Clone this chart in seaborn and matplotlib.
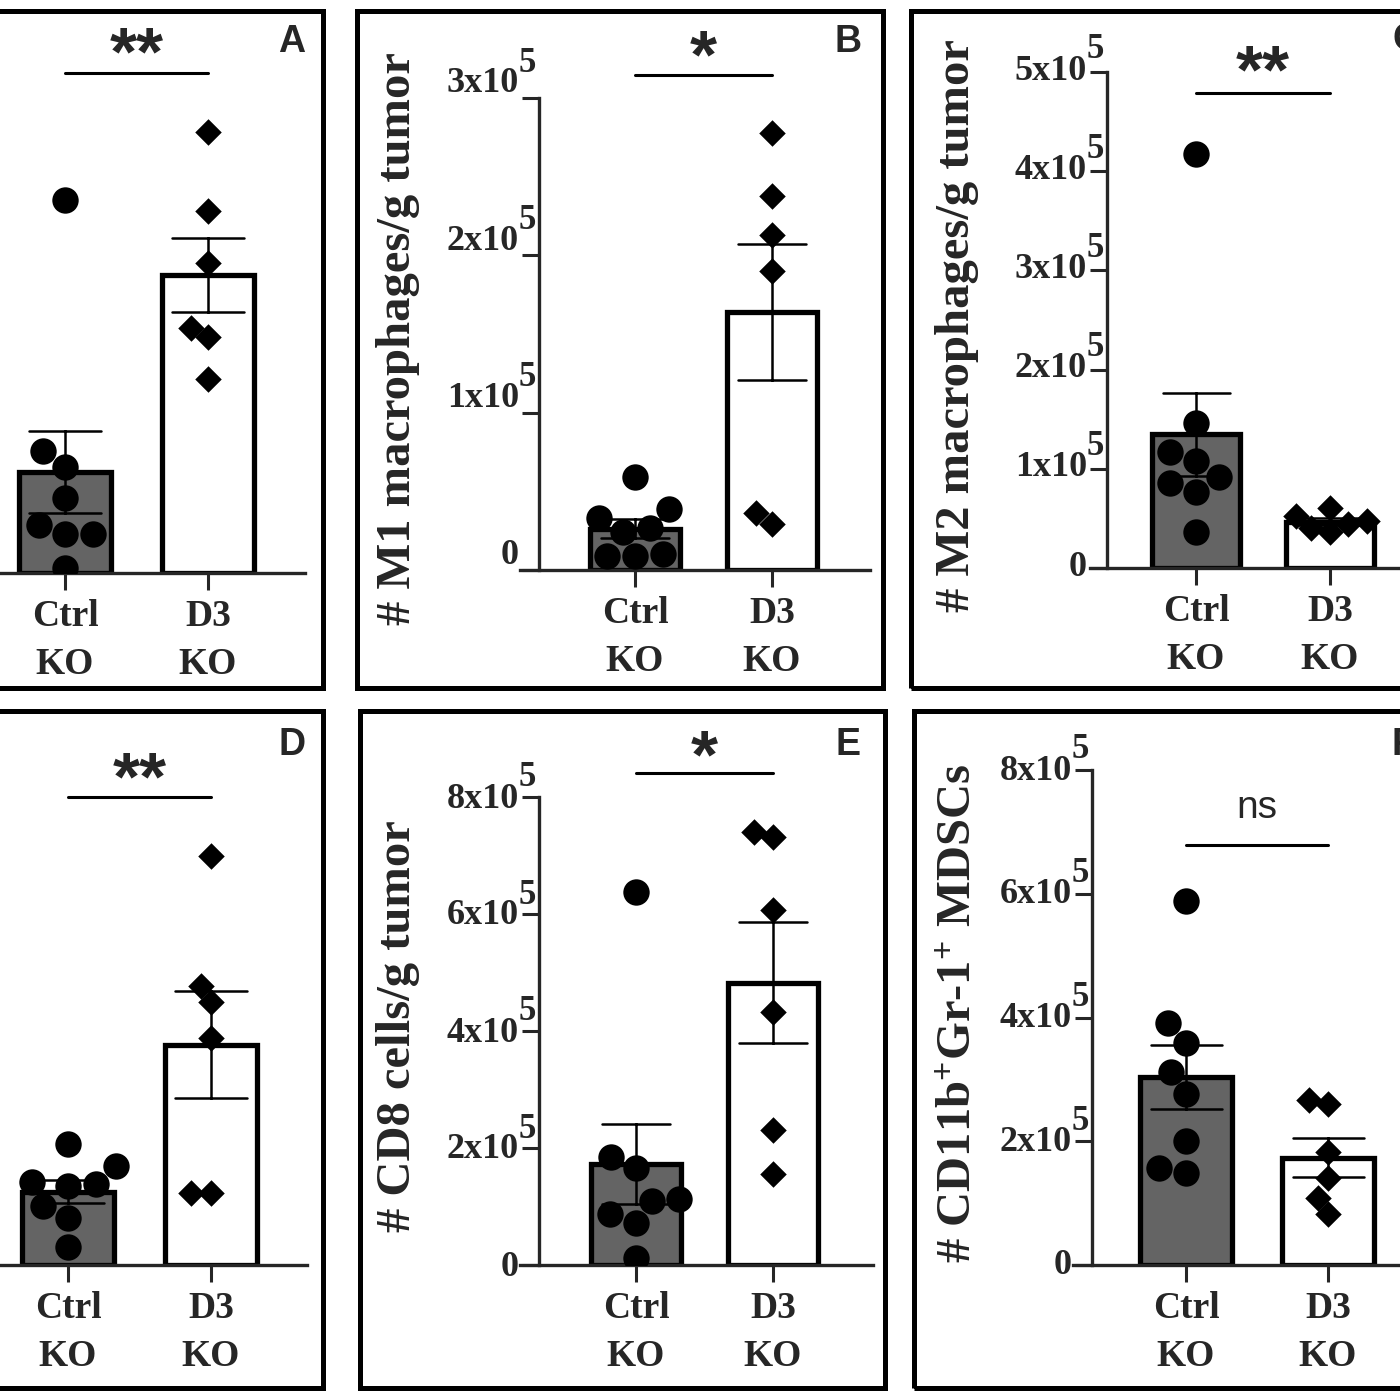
import numpy as np
import pandas as pd
import matplotlib
matplotlib.use('Agg')
import matplotlib.pyplot as plt
import seaborn as sns
from matplotlib.transforms import ScaledTranslation, blended_transform_factory
from matplotlib.patches import Rectangle

sns.set_style('ticks')
plt.rcParams['font.family'] = ['Liberation Serif', 'DejaVu Serif']
plt.rcParams['font.weight'] = 'bold'
plt.rcParams['axes.labelweight'] = 'bold'
plt.rcParams['mathtext.default'] = 'regular'

# ---- data ----
groups = ['Ctrl\nKO', 'D3\nKO']

# panel A and D: y axis is cropped away, values in arbitrary units
a_ctrl = [3.73, 1.22, 1.06, 0.75, 0.48, 0.39, 0.39, 0.05]
a_d3 = [4.41, 3.62, 3.10, 2.45, 2.36, 1.94]
d_ctrl = [1.21, 0.99, 0.83, 0.81, 0.79, 0.59, 0.47, 0.18]
d_d3 = [4.09, 2.79, 2.63, 2.27, 0.72, 0.72]

# panels B, C, E, F in units of 10^5 cells / g tumor
m1_ctrl = [0.59, 0.39, 0.33, 0.27, 0.24, 0.10, 0.09, 0.09]
m1_d3 = [2.78, 2.38, 2.13, 1.90, 0.36, 0.29]
m2_ctrl = [4.17, 1.46, 1.17, 1.08, 0.92, 0.86, 0.77, 0.36]
m2_d3 = [0.60, 0.52, 0.47, 0.44, 0.40, 0.36]
cd8_ctrl = [6.37, 1.85, 1.66, 1.13, 1.09, 0.87, 0.72, 0.12]
cd8_d3 = [7.40, 7.32, 6.07, 4.32, 2.31, 1.55]
mdsc_ctrl = [5.88, 3.91, 3.59, 3.12, 2.76, 2.00, 1.56, 1.49]
mdsc_d3 = [2.66, 2.61, 1.82, 1.41, 1.09, 0.83]

# ---- layout in pixels of the 1400x1400 canvas ----
W = H = 1400
DPI = 100
GRAY = '#646464'

fig = plt.figure(figsize=(W / DPI, H / DPI), dpi=DPI)

panels = [
    dict(letter='A', ctrl=a_ctrl, d3=a_d3, scale=1, ymax=4.75, yticks=None, ylabel='',
         left=-60, yaxis=-36, right=305, top=98, bottom=573, xc=65, xd=208,
         sig='**', sig_y=73, sig_ty=42, lab_x=None, lab_y=None, tick_off=0,
         frame=(-10, 323, 11, 688), letter_xy=(292, 42), letter_ha='center'),
    dict(letter='B', ctrl=m1_ctrl, d3=m1_d3, scale=1e5, ymax=3, yticks=[0, 1, 2, 3],
         ylabel='# M1 macrophages/g tumor',
         left=520, yaxis=539, right=870, top=98, bottom=570, xc=635, xd=772,
         sig='*', sig_y=75, sig_ty=45, lab_x=398, lab_y=339, tick_off=18,
         frame=(357, 883, 11, 688), letter_xy=(848, 42), letter_ha='center'),
    dict(letter='C', ctrl=m2_ctrl, d3=m2_d3, scale=1e5, ymax=5, yticks=[0, 1, 2, 3, 4, 5],
         ylabel='# M2 macrophages/g tumor',
         left=1090, yaxis=1107, right=1420, top=72, bottom=568, xc=1196, xd=1330,
         sig='**', sig_y=93, sig_ty=60, lab_x=957, lab_y=326, tick_off=5,
         frame=(911, 1420, 11, 688), letter_xy=(1392, 40), letter_ha='left'),
    dict(letter='D', ctrl=d_ctrl, d3=d_d3, scale=1, ymax=4.68, yticks=None, ylabel='',
         left=-60, yaxis=-33, right=307, top=797, bottom=1265, xc=68, xd=211,
         sig='**', sig_y=797, sig_ty=767, lab_x=None, lab_y=None, tick_off=0,
         frame=(-10, 323, 711, 1388), letter_xy=(292, 745), letter_ha='center'),
    dict(letter='E', ctrl=cd8_ctrl, d3=cd8_d3, scale=1e5, ymax=8, yticks=[0, 2, 4, 6, 8],
         ylabel='# CD8 cells/g tumor',
         left=520, yaxis=539, right=873, top=797, bottom=1265, xc=636, xd=773,
         sig='*', sig_y=773, sig_ty=745, lab_x=398, lab_y=1026, tick_off=2,
         frame=(360, 885, 711, 1388), letter_xy=(848, 745), letter_ha='center'),
    dict(letter='F', ctrl=mdsc_ctrl, d3=mdsc_d3, scale=1e5, ymax=8, yticks=[0, 2, 4, 6, 8],
         ylabel='# CD11b$^{+}$Gr-1$^{+}$ MDSCs',
         left=1073, yaxis=1092, right=1420, top=770, bottom=1265, xc=1186, xd=1328,
         sig='ns', sig_y=845, sig_ty=808, lab_x=958, lab_y=1013, tick_off=3,
         frame=(914, 1420, 711, 1388), letter_xy=(1392, 745), letter_ha='left'),
]


def to_inch(px):
    return px / DPI


for p in panels:
    left, right, top, bottom = p['left'], p['right'], p['top'], p['bottom']
    width, height = right - left, bottom - top
    ax = fig.add_axes([left / W, 1 - bottom / H, width / W, height / H])

    df = pd.DataFrame({
        'group': [groups[0]] * len(p['ctrl']) + [groups[1]] * len(p['d3']),
        'value': np.array(p['ctrl'] + p['d3']) * p['scale'],
    })

    sns.barplot(data=df, x='group', y='value', hue='group', order=groups,
                hue_order=groups, palette=[GRAY, 'white'], legend=False,
                errorbar='se', capsize=0.5, width=0.65, edgecolor='black',
                linewidth=3.8, err_kws={'color': 'black', 'linewidth': 1.8},
                ax=ax)
    sns.swarmplot(data=df[df['group'] == groups[0]], x='group', y='value',
                  order=groups, color='black', marker='o', size=19,
                  linewidth=0, ax=ax, warn_thresh=1)
    sns.swarmplot(data=df[df['group'] == groups[1]], x='group', y='value',
                  order=groups, color='black', marker='D', size=13.5,
                  linewidth=0, ax=ax, warn_thresh=1)

    # category axis mapped so Ctrl / D3 land on their pixel columns
    d = p['xd'] - p['xc']
    ax.set_xlim(-(p['xc'] - left) / d, 1 + (right - p['xd']) / d)
    ax.set_ylim(0, p['ymax'] * p['scale'])

    sns.despine(ax=ax)
    ax.spines['left'].set_position(('axes', (p['yaxis'] - left) / width))
    for s in ['left', 'bottom']:
        ax.spines[s].set_linewidth(2.4)

    ax.set_xlabel('')
    ax.tick_params(axis='x', length=12, width=2.2, pad=7, labelsize=27)
    for lab in ax.get_xticklabels():
        lab.set_linespacing(1.45)
    ax.tick_params(axis='y', length=12, width=2.2, pad=2.5, labelsize=26)

    if p['yticks'] is None:
        ax.set_yticks([])
        ax.set_ylabel('')
    else:
        ticks = [t * p['scale'] for t in p['yticks']]
        labels = ['0' if t == 0 else f'{t}x10' for t in p['yticks']]
        ax.set_yticks(ticks, labels)
        off = ScaledTranslation(0, to_inch(p['tick_off']), fig.dpi_scale_trans)
        for lab in ax.get_yticklabels():
            lab.set_transform(lab.get_transform() + off)
        # exponent drawn as its own glyph, full size, as in the original
        sx = (p['yaxis'] - left) / width
        sup = blended_transform_factory(ax.transAxes, ax.transData) + ScaledTranslation(
            to_inch(-3), to_inch(p['tick_off'] + 17), fig.dpi_scale_trans)
        for t in ticks[1:]:
            ax.text(sx, t, '5', transform=sup, ha='right', va='center',
                    fontsize=25, fontweight='bold')
        ax.set_ylabel(p['ylabel'], fontsize=35, fontweight='bold', va='center')
        ax.yaxis.set_label_coords((p['lab_x'] - left) / width,
                                  (bottom - p['lab_y']) / height)

    # significance bar
    bt = blended_transform_factory(ax.transData, ax.transAxes)
    ax.plot([0, 1], [(bottom - p['sig_y']) / height] * 2, color='black',
            lw=2.2, transform=bt, clip_on=False)
    if p['sig'] == 'ns':
        ax.text(0.5, (bottom - p['sig_ty']) / height, 'ns', transform=bt,
                ha='center', va='center', fontsize=28, fontweight='normal',
                family='Liberation Sans')
    else:
        # the asterisk glyph sits high in its box, so drop the box a little
        ax.text(0.5, (bottom - p['sig_ty'] - 14) / height, p['sig'], transform=bt,
                ha='center', va='center', fontsize=50, fontweight='bold',
                family='Liberation Sans')

    # panel frame and letter
    x0, x1, y0, y1 = p['frame']
    fig.add_artist(Rectangle((x0 / W, 1 - y1 / H), (x1 - x0) / W, (y1 - y0) / H,
                             fill=False, lw=3.6, ec='black',
                             transform=fig.transFigure))
    lx, ly = p['letter_xy']
    fig.text(lx / W, 1 - ly / H, p['letter'], ha=p['letter_ha'], va='center',
             fontsize=27, fontweight='bold', family='Liberation Sans')

fig.savefig('out.png', dpi=DPI)
